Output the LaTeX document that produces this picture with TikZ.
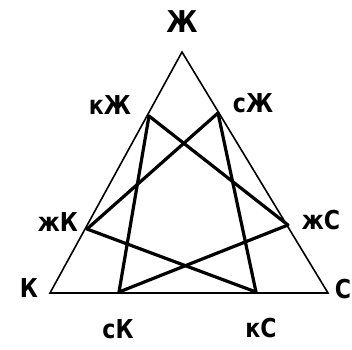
\documentclass[tikz,border=0pt]{standalone}
\usepackage{fontspec}
\setmainfont[FakeStretch=0.85]{DejaVu Sans}
\usetikzlibrary{positioning}

\begin{document}
\begin{tikzpicture}[x=1pt,y=-1pt,
  lbl/.style={inner sep=0pt,font=\fontsize{26}{26}\selectfont\bfseries},
  side/.style={line width=1.6pt},
  chord/.style={line width=3.2pt,line cap=round}]
\useasboundingbox (0,0) rectangle (352,349);
\coordinate (zh) at (182,52);
\coordinate (k) at (50,293);
\coordinate (s) at (328,293);
\coordinate (kzh) at (149,116);
\coordinate (szh) at (218,113);
\coordinate (zhk) at (87,229);
\coordinate (zhs) at (288,225);
\coordinate (sk) at (119,292);
\coordinate (ks) at (256,292);
\node[lbl,font=\fontsize{30}{30}\selectfont\bfseries] (lzh) at (182,22) {Ж};
\node[lbl] (lkzh) at (110,105) {кЖ};
\node[lbl] (lszh) at (253,103) {сЖ};
\node[lbl] (lzhk) at (58,222) {жК};
\node[lbl] (lzhs) at (321,220) {жС};
\node[lbl] (lk) at (29,288) {К};
\node[lbl] (ls) at (343,289) {С};
\node[lbl] (lsk) at (118,329) {сК};
\node[lbl] (lks) at (261,328) {кС};
\draw[side] (zh) -- (k) -- (s) -- cycle;
\draw[chord] (kzh) -- (zhs);
\draw[chord] (kzh) -- (sk);
\draw[chord] (szh) -- (zhk);
\draw[chord] (szh) -- (ks);
\draw[chord] (zhk) -- (ks);
\draw[chord] (zhs) -- (sk);
\end{tikzpicture}
\end{document}
